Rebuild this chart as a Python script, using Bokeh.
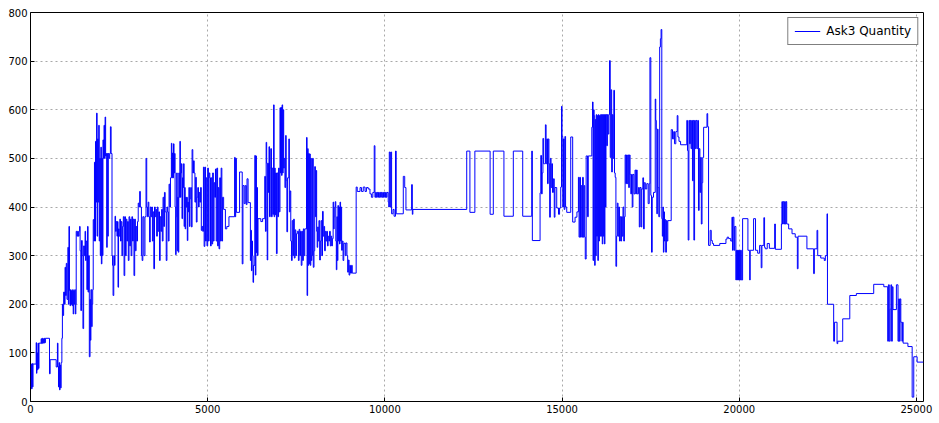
from bokeh.plotting import figure
from bokeh.models import Range1d, FixedTicker
from bokeh.embed import file_html
from bokeh.resources import INLINE

# (row index, Ask3 quantity) change points, by stretch
seg_open = [(0, 30), (15, 77), (30, 26), (45, 78), (60, 30), (70, 77), (160, 121), (170, 58), (180, 100),
            (195, 65), (210, 120), (225, 68), (240, 120), (300, 129), (315, 119), (330, 130), (345, 120),
            (360, 129), (375, 120), (390, 130), (405, 121), (420, 130), (536, 57), (555, 86), (725, 71),
            (760, 120), (775, 72), (790, 30), (805, 80), (820, 24), (835, 75), (850, 28), (865, 80),
            (885, 130), (900, 200), (915, 177), (935, 225), (960, 200), (975, 276)]

seg_rise = [(990, 218), (1010, 284), (1030, 210), (1055, 317), (1070, 200), (1085, 360), (1100, 228),
            (1115, 197), (1130, 230), (1145, 200), (1160, 228), (1175, 197), (1190, 230), (1205, 180),
            (1220, 228), (1235, 200), (1250, 230), (1265, 180), (1280, 200), (1290, 350), (1310, 340),
            (1330, 350), (1350, 340), (1370, 350), (1385, 360), (1400, 310), (1420, 187), (1440, 331),
            (1460, 300), (1480, 150), (1500, 320), (1520, 300), (1540, 350), (1555, 290), (1570, 330),
            (1590, 230), (1610, 360), (1625, 225), (1640, 300), (1660, 92), (1680, 210), (1690, 126),
            (1705, 230), (1725, 154), (1740, 200), (1755, 230), (1770, 374), (1790, 330), (1805, 492),
            (1820, 330), (1835, 535), (1850, 410), (1865, 593), (1880, 340)]

seg_peak1 = [(1895, 540), (1910, 410), (1925, 568), (1940, 330), (1955, 500), (1970, 300), (1985, 523),
             (2000, 283), (2015, 500), (2030, 300), (2045, 538), (2060, 500), (2075, 568), (2090, 500),
             (2105, 585), (2120, 505), (2135, 510), (2150, 317), (2165, 510), (2180, 340), (2195, 510),
             (2215, 500), (2235, 510), (2255, 565), (2275, 510), (2300, 300), (2315, 280), (2330, 218),
             (2350, 300), (2370, 280)]

seg_mid1 = [(2385, 381), (2400, 350), (2420, 370), (2440, 340), (2455, 370), (2470, 235), (2485, 355),
            (2500, 340), (2520, 375), (2540, 330), (2560, 370), (2580, 300), (2600, 360), (2620, 380),
            (2640, 259), (2660, 380), (2680, 300), (2700, 375), (2720, 330), (2740, 370), (2760, 290),
            (2780, 380), (2800, 320), (2820, 375), (2840, 300), (2860, 380), (2880, 330), (2900, 375),
            (2920, 259), (2940, 375), (2960, 310), (2980, 360), (3000, 330), (3020, 370), (3040, 408),
            (3060, 400), (3080, 432), (3100, 400), (3130, 300), (3150, 290), (3170, 380), (3200, 300),
            (3230, 380), (3260, 500), (3280, 400), (3300, 380), (3320, 410), (3340, 380), (3360, 328),
            (3380, 400), (3400, 380), (3420, 400), (3440, 330), (3460, 390), (3480, 273), (3500, 400),
            (3520, 380), (3540, 395), (3560, 340), (3580, 400), (3600, 350), (3620, 390), (3640, 290),
            (3660, 380), (3680, 350), (3700, 395), (3720, 330), (3740, 420), (3760, 360), (3780, 430),
            (3800, 390), (3830, 290), (3850, 400), (3870, 390), (3890, 330), (3910, 447), (3930, 400),
            (3950, 460), (3975, 531)]

seg_mid2 = [(3990, 460), (4005, 511), (4020, 460), (4035, 530), (4050, 470), (4065, 510), (4080, 400),
            (4095, 302), (4110, 380), (4125, 470), (4140, 310), (4155, 420), (4170, 307), (4185, 470),
            (4200, 420), (4215, 535), (4230, 420), (4245, 470), (4260, 489), (4275, 376), (4290, 460),
            (4305, 440), (4320, 489), (4335, 360), (4350, 440), (4365, 355), (4380, 420), (4395, 400),
            (4410, 420), (4425, 331), (4440, 410), (4455, 390), (4470, 440), (4485, 360), (4500, 417),
            (4520, 440), (4540, 359), (4560, 518), (4580, 470), (4600, 495), (4620, 470), (4640, 410),
            (4660, 461), (4680, 369), (4700, 420), (4720, 440), (4740, 400), (4760, 430), (4780, 410),
            (4800, 440), (4820, 352), (4840, 360), (4860, 350), (4880, 482), (4900, 319), (4920, 482),
            (4940, 330), (4960, 460), (4980, 320), (5000, 480), (5020, 330), (5040, 470), (5060, 460),
            (5080, 320), (5100, 460), (5120, 324), (5140, 470), (5160, 330), (5180, 450), (5200, 420),
            (5220, 478), (5240, 330), (5260, 480), (5280, 320), (5300, 440), (5320, 314), (5340, 460),
            (5360, 330), (5380, 480), (5400, 330), (5420, 420), (5450, 395), (5500, 355), (5540, 360),
            (5600, 380), (5760, 502), (5775, 380), (5790, 500), (5810, 389), (5900, 472), (5975, 283),
            (5995, 444), (6030, 407), (6060, 444), (6090, 405), (6110, 458), (6140, 409), (6205, 290),
            (6220, 352), (6235, 269), (6250, 330), (6265, 300), (6280, 245), (6295, 280), (6330, 506),
            (6345, 260), (6360, 505), (6375, 306), (6390, 440), (6405, 300), (6420, 376), (6500, 370),
            (6550, 376), (6610, 463), (6630, 350), (6650, 533), (6665, 490), (6680, 291), (6695, 490),
            (6715, 430), (6730, 524), (6745, 380), (6765, 480), (6780, 520), (6800, 380), (6820, 480),
            (6840, 385), (6860, 610), (6875, 380), (6890, 480), (6905, 384), (6920, 470), (6940, 304),
            (6960, 470), (6980, 380), (7000, 480), (7020, 390), (7040, 604), (7055, 470), (7070, 605),
            (7085, 465), (7100, 610), (7115, 470), (7130, 600), (7145, 480), (7160, 500), (7180, 440),
            (7200, 547), (7215, 455), (7235, 349), (7255, 460), (7290, 540), (7305, 390), (7325, 433),
            (7345, 330), (7365, 290), (7385, 372), (7405, 300), (7425, 375), (7445, 295), (7465, 353),
            (7485, 300), (7505, 345), (7530, 350), (7560, 290), (7580, 354), (7600, 300), (7620, 350),
            (7640, 280), (7660, 350), (7680, 290), (7700, 355), (7720, 300), (7740, 355), (7790, 543),
            (7805, 218), (7820, 520), (7835, 280), (7850, 510), (7865, 283), (7880, 509), (7895, 280),
            (7910, 500), (7925, 290), (7940, 300), (7960, 500), (7980, 276), (8000, 310), (8020, 483),
            (8040, 380), (8060, 475), (8075, 350)]

seg_mid3 = [(8090, 317), (8105, 359), (8120, 330), (8140, 372), (8160, 291), (8180, 330), (8200, 372),
            (8220, 300), (8240, 391), (8260, 340), (8280, 360), (8300, 310), (8320, 350), (8340, 330),
            (8360, 350), (8380, 320), (8400, 340), (8420, 330), (8440, 350), (8460, 320), (8480, 340),
            (8500, 320), (8520, 335), (8540, 410), (8555, 355), (8570, 380), (8585, 400), (8600, 411),
            (8615, 330), (8630, 271), (8645, 380), (8660, 290), (8675, 403), (8690, 330), (8705, 400),
            (8720, 324), (8735, 410), (8750, 330), (8765, 400), (8780, 311), (8800, 330), (8820, 290),
            (8840, 325), (8860, 326), (8880, 300), (8900, 326), (8930, 300), (8950, 266), (8970, 291),
            (8990, 260), (9010, 280), (9030, 264), (9060, 280), (9080, 264), (9190, 441)]

seg_flat = [(9220, 432), (9300, 440), (9340, 432), (9390, 441), (9440, 432), (9480, 440), (9530, 437),
            (9580, 427), (9620, 420), (9660, 430), (9700, 526), (9720, 420), (9740, 430), (9760, 420),
            (9780, 430), (9800, 420), (9820, 430), (9840, 420), (9860, 430), (9880, 420), (9900, 430),
            (9920, 420), (9940, 430), (9960, 420), (9980, 430), (10000, 420), (10020, 430), (10040, 420),
            (10060, 430), (10095, 410), (10110, 400), (10125, 513), (10145, 400), (10165, 513),
            (10190, 386), (10230, 395), (10260, 381), (10300, 515), (10320, 386), (10520, 463),
            (10560, 440), (10595, 394), (10755, 446), (10775, 385), (10790, 395), (12310, 515),
            (12400, 389), (12540, 515), (12970, 385), (13060, 515), (13360, 381), (13625, 515),
            (13890, 381), (14145, 515)]

seg_late = [(14162, 331), (14380, 429), (14400, 506), (14420, 427), (14440, 470), (14460, 541), (14480, 489),
            (14510, 489), (14530, 569), (14550, 489), (14570, 540), (14590, 448), (14610, 540), (14630, 489),
            (14650, 379), (14670, 500), (14690, 440), (14710, 489), (14730, 430), (14756, 458), (14780, 379),
            (14800, 440), (14850, 398), (14900, 385), (14930, 398), (14963, 441), (14985, 607), (15000, 545),
            (15020, 400), (15040, 540), (15060, 395), (15080, 545), (15100, 400), (15132, 389), (15245, 544),
            (15300, 369), (15367, 379), (15420, 390), (15462, 461), (15480, 338), (15500, 461), (15520, 338),
            (15540, 444), (15560, 338), (15580, 461), (15600, 338), (15620, 444), (15640, 338), (15655, 293),
            (15680, 505), (15720, 380), (15740, 505), (15840, 564), (15860, 616), (15875, 290), (15890, 600),
            (15905, 588), (15920, 280), (15935, 580), (15950, 300), (15965, 590), (15980, 340), (15995, 588),
            (16010, 290), (16025, 590), (16040, 330), (16055, 588), (16075, 340), (16090, 590), (16105, 340),
            (16120, 590), (16135, 324), (16150, 590), (16165, 340), (16180, 590), (16195, 324), (16210, 590),
            (16225, 400), (16240, 590), (16260, 526), (16280, 590), (16300, 550), (16320, 590), (16340, 701),
            (16360, 502), (16380, 641), (16400, 472), (16420, 590), (16440, 500), (16460, 640), (16480, 470),
            (16500, 461), (16520, 278), (16540, 340), (16560, 408), (16580, 340), (16600, 400), (16620, 330),
            (16640, 380), (16660, 330), (16680, 380), (16700, 340), (16720, 400), (16740, 330), (16760, 380),
            (16780, 507), (16800, 448), (16820, 507), (16840, 448), (16860, 507), (16880, 440), (16900, 507),
            (16920, 467), (16940, 427), (16960, 467), (16980, 400), (17000, 467), (17030, 427), (17060, 476),
            (17080, 427), (17100, 476), (17120, 427), (17155, 440), (17180, 359), (17200, 440), (17230, 359),
            (17250, 437), (17280, 460), (17300, 355), (17320, 450), (17350, 437), (17390, 448), (17430, 407),
            (17460, 448), (17480, 707), (17505, 424), (17525, 307), (17545, 420), (17580, 430), (17630, 622),
            (17645, 578), (17660, 560), (17675, 386), (17690, 560), (17710, 440), (17730, 380), (17755, 729),
            (17775, 746), (17795, 765), (17815, 376), (17830, 340), (17845, 400), (17860, 307), (17875, 390),
            (17890, 330), (17905, 374), (17925, 307), (17945, 372), (17965, 330), (17985, 372), (18080, 559),
            (18117, 540), (18150, 555), (18175, 530), (18210, 555), (18250, 588), (18270, 544), (18300, 535),
            (18345, 528), (18520, 578), (18540, 516), (18560, 332), (18580, 578), (18600, 530), (18620, 578),
            (18640, 520), (18660, 578), (18680, 454), (18700, 578), (18720, 332), (18740, 578), (18760, 520),
            (18780, 578), (18805, 520), (18830, 578), (18850, 393), (18870, 520), (18890, 430), (18910, 502),
            (18930, 365), (18950, 450), (18970, 502), (18995, 564), (19090, 592), (19110, 565)]

seg_tail = [(19135, 321), (19180, 352), (19210, 331), (19240, 325), (19275, 321), (19450, 325), (19625, 334),
            (19660, 338), (19700, 335), (19760, 330), (19795, 379), (19810, 311), (19825, 379), (19850, 311),
            (19870, 360), (19905, 250), (19920, 311), (19935, 250), (19950, 311), (19965, 250), (19980, 311),
            (19995, 250), (20010, 311), (20025, 250), (20040, 311), (20060, 250), (20095, 376), (20245, 311),
            (20295, 250), (20310, 311), (20405, 376), (20460, 311), (20520, 305), (20575, 321), (20620, 275),
            (20640, 321), (20695, 378), (20715, 317), (20735, 314), (20790, 325), (20850, 315), (21000, 365),
            (21020, 313), (21190, 365), (21205, 411), (21220, 365), (21240, 411), (21260, 365), (21280, 411),
            (21300, 365), (21320, 411), (21340, 365), (21395, 355), (21490, 345), (21580, 338), (21640, 273),
            (21660, 340), (21910, 314), (22100, 263), (22120, 314), (22195, 352), (22215, 300), (22300, 295),
            (22400, 290), (22430, 300), (22478, 386), (22490, 200), (22665, 124), (22690, 163), (22760, 119),
            (22780, 124), (22920, 170), (23120, 218), (23305, 222), (23795, 241), (24080, 236), (24190, 124),
            (24210, 240), (24235, 124), (24260, 190), (24280, 240), (24300, 124), (24320, 236), (24340, 189),
            (24435, 240), (24480, 124), (24500, 211), (24520, 124), (24540, 211), (24560, 163), (24590, 124),
            (24610, 163), (24625, 120), (24760, 113), (24880, 9), (24925, 92), (25020, 81), (25200, 81)]

x_ticks = [0, 5000, 10000, 15000, 20000, 25000]
y_ticks = [0, 100, 200, 300, 400, 500, 600, 700, 800]
series_name = "Ask3 Quantity"

segments = [seg_open, seg_rise, seg_peak1, seg_mid1, seg_mid2, seg_mid3, seg_flat, seg_late, seg_tail]
idx = [pt[0] for s in segments for pt in s]
qty = [pt[1] for s in segments for pt in s]

p = figure(width=939, height=423, output_backend="svg", toolbar_location=None,
           x_range=Range1d(0, 25200), y_range=Range1d(0, 800),
           min_border_left=30, min_border_right=16, min_border_top=12, min_border_bottom=22,
           background_fill_color="white", border_fill_color="white")

p.step(idx, qty, mode="after", line_color="#0000ff", line_width=1, legend_label=series_name)

p.outline_line_color = "black"
p.outline_line_width = 1
p.outline_line_alpha = 1

for ax in [p.xaxis[0], p.yaxis[0]]:
    ax.axis_line_color = None
    ax.major_tick_in = 4
    ax.major_tick_out = 0
    ax.minor_tick_in = 0
    ax.minor_tick_out = 0
    ax.major_tick_line_color = "black"
    ax.major_label_text_font = "DejaVu Sans"
    ax.major_label_text_font_size = "10px"
    ax.major_label_text_color = "black"
    ax.major_label_standoff = 3

p.xaxis[0].ticker = FixedTicker(ticks=x_ticks)
p.yaxis[0].ticker = FixedTicker(ticks=y_ticks)
p.xaxis[0].major_label_standoff = 3

p.xgrid.ticker = FixedTicker(ticks=x_ticks)
p.ygrid.ticker = FixedTicker(ticks=y_ticks)
p.grid.grid_line_color = "#a8a8a8"
p.grid.grid_line_dash = "2 3"
p.grid.grid_line_width = 1

lg = p.legend[0]
lg.location = "top_right"
lg.margin = 5
lg.padding = 6
lg.spacing = 0
lg.glyph_width = 26
lg.glyph_height = 12
lg.label_standoff = 6
lg.label_text_font = "DejaVu Sans"
lg.label_text_font_size = "12px"
lg.label_text_color = "black"
lg.border_line_color = "black"
lg.border_line_width = 1
lg.background_fill_color = "white"
lg.background_fill_alpha = 1

open("out.html", "w").write(file_html(p, INLINE))
